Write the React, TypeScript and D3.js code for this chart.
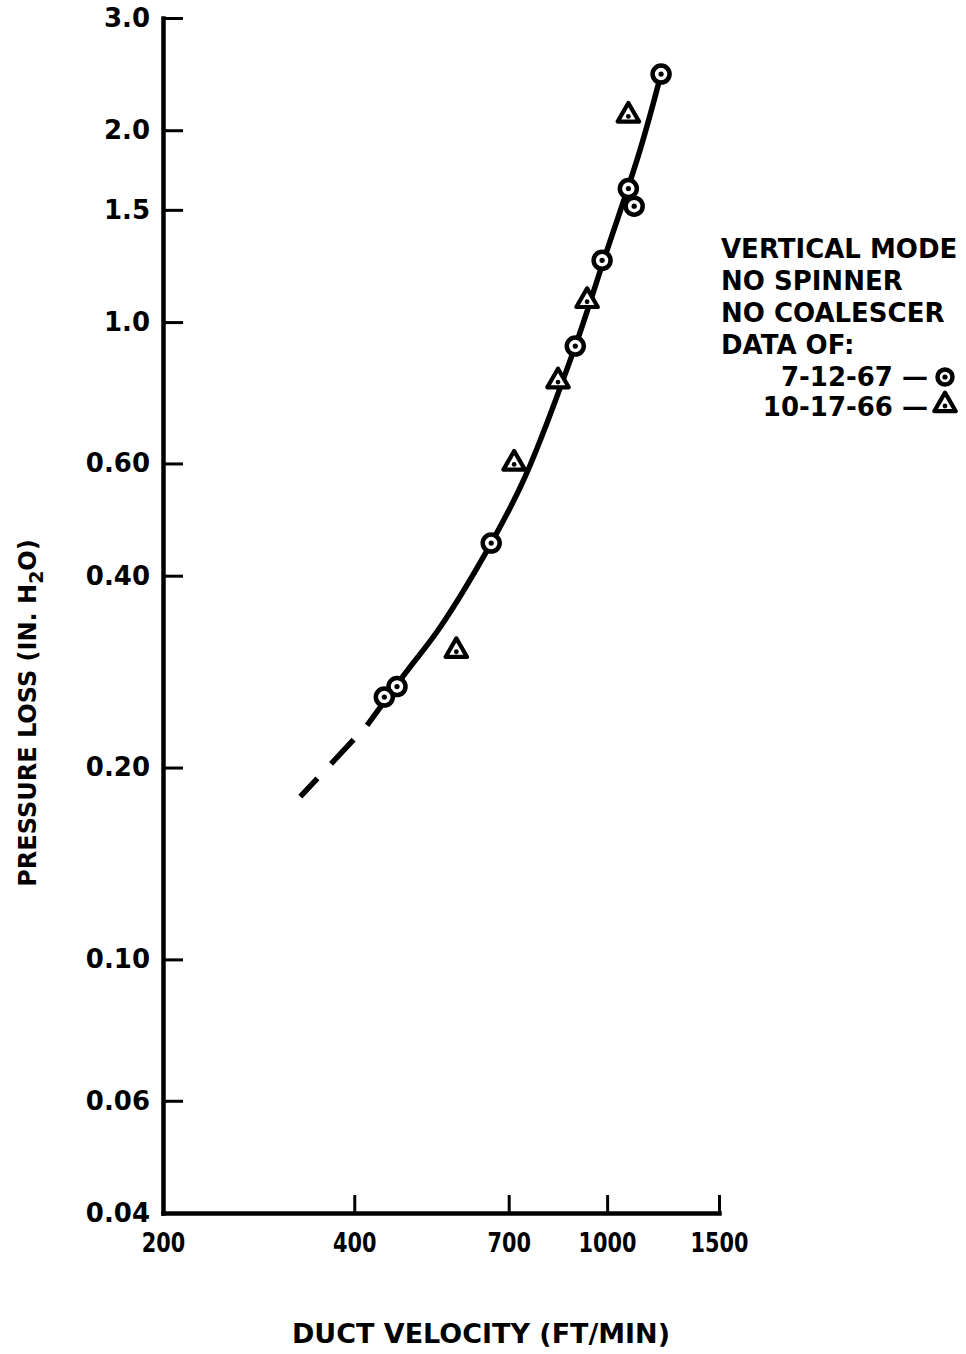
import React, { useRef, useEffect } from "react";
import * as d3 from "d3";

// duct velocity (ft/min) vs pressure loss (in. H2O)
const circleVelocity = [1216, 1080, 1103, 982, 891, 657, 467, 446];
const circleLoss = [2.45, 1.62, 1.52, 1.25, 0.917, 0.45, 0.268, 0.258];
const triangleVelocity = [1080, 930, 837, 714, 579];
const triangleLoss = [2.11, 1.08, 0.808, 0.6, 0.305];

// faired curve (solid) and the dashed extension below the data
const curveVelocity = [419, 481, 546, 657, 743, 891, 985, 1127, 1216];
const curveLoss = [0.233, 0.281, 0.332, 0.45, 0.572, 0.917, 1.24, 1.863, 2.45];
const dashVelocity = [329, 419];
const dashLoss = [0.18, 0.233];

const xTicks = [200, 400, 700, 1000, 1500];
const yTicks = [3.0, 2.0, 1.5, 1.0, 0.6, 0.4, 0.2, 0.1, 0.06, 0.04];
const yLabels = ["3.0", "2.0", "1.5", "1.0", "0.60", "0.40", "0.20", "0.10", "0.06", "0.04"];

const legendLines = ["VERTICAL MODE", "NO SPINNER", "NO COALESCER", "DATA OF:"];
const legendDates = ["7-12-67 \u2014", "10-17-66 \u2014"];

const FONT = "'DejaVu Sans', sans-serif";

function PressureChart() {
  const width = 966;
  const height = 1354;
  const svgRef = useRef<SVGSVGElement>(null);

  useEffect(() => {
    const svg = d3.select(svgRef.current);
    svg.selectAll("*").remove();

    const x = d3.scaleLog().domain([200, 1500]).range([163, 719]);
    const y = d3.scaleLog().domain([0.04, 3.0]).range([1213, 18]);

    // y axis
    const gy = svg
      .append("g")
      .attr("transform", `translate(${x(200)},0)`)
      .call(
        d3
          .axisLeft(y)
          .tickValues(yTicks)
          .tickSize(-20)
          .tickSizeOuter(0)
          .tickPadding(13)
          .tickFormat((d, i) => yLabels[i])
      );
    gy.select(".domain").attr("stroke-width", 4.5).attr("stroke-linecap", "square");
    gy.selectAll(".tick line").attr("stroke-width", 3);
    gy.selectAll(".tick text")
      .attr("font-family", FONT)
      .attr("font-size", 26)
      .attr("font-weight", "bold")
      .attr("fill", "#000");

    // x axis
    const gx = svg
      .append("g")
      .attr("transform", `translate(0,${y(0.04)})`)
      .call(
        d3
          .axisBottom(x)
          .tickValues(xTicks)
          .tickSize(-18)
          .tickSizeOuter(0)
          .tickPadding(20)
          .tickFormat((d) => String(d))
      );
    gx.select(".domain").attr("stroke-width", 4.5).attr("stroke-linecap", "square");
    gx.selectAll(".tick line").attr("stroke-width", 3);
    gx.selectAll(".tick text")
      .attr("font-family", FONT)
      .attr("font-size", 27)
      .attr("font-weight", "bold")
      .attr("fill", "#000")
      .attr("textLength", (d: any) => String(d).length * 14.5)
      .attr("lengthAdjust", "spacingAndGlyphs");
    gx.select(".tick").select("line").remove();

    // faired curve
    const line = d3
      .line<number>()
      .x((i) => x(curveVelocity[i]))
      .y((i) => y(curveLoss[i]))
      .curve(d3.curveCatmullRom.alpha(0.5));
    svg
      .append("path")
      .attr("d", line(d3.range(curveVelocity.length)))
      .attr("fill", "none")
      .attr("stroke", "#000")
      .attr("stroke-width", 5.5);

    const dashLine = d3
      .line<number>()
      .x((i) => x(dashVelocity[i]))
      .y((i) => y(dashLoss[i]));
    svg
      .append("path")
      .attr("d", dashLine(d3.range(dashVelocity.length)))
      .attr("fill", "none")
      .attr("stroke", "#000")
      .attr("stroke-width", 5.5)
      .attr("stroke-dasharray", "25 20 33 20");

    const triangle = d3.symbol(d3.symbolTriangle, 200);

    const drawCircle = (g: any, cx: number, cy: number, r = 8.5) => {
      g.append("circle")
        .attr("cx", cx)
        .attr("cy", cy)
        .attr("r", r)
        .attr("fill", "#fff")
        .attr("stroke", "#000")
        .attr("stroke-width", 4.5);
      g.append("circle").attr("cx", cx).attr("cy", cy).attr("r", 2.6).attr("fill", "#000");
    };
    const drawTriangle = (g: any, cx: number, cy: number) => {
      g.append("path")
        .attr("d", triangle())
        .attr("transform", `translate(${cx},${cy})`)
        .attr("fill", "#fff")
        .attr("stroke", "#000")
        .attr("stroke-width", 4.2)
        .attr("stroke-linejoin", "round");
      g.append("circle").attr("cx", cx).attr("cy", cy + 1).attr("r", 2.4).attr("fill", "#000");
    };

    const marks = svg.append("g");
    circleVelocity.forEach((v, i) => drawCircle(marks, x(v), y(circleLoss[i])));
    triangleVelocity.forEach((v, i) => drawTriangle(marks, x(v), y(triangleLoss[i])));

    // legend
    const legend = svg
      .append("g")
      .attr("font-family", FONT)
      .attr("font-size", 26)
      .attr("font-weight", "bold");
    legendLines.forEach((t, i) => {
      legend.append("text").attr("x", 721).attr("y", 258 + i * 32).text(t);
    });
    legendDates.forEach((t, i) => {
      legend
        .append("text")
        .attr("x", 928)
        .attr("y", 386 + i * 30)
        .attr("text-anchor", "end")
        .text(t);
    });
    drawCircle(legend, 945, 377, 7.5);
    drawTriangle(legend, 945, 405);

    // axis titles
    svg
      .append("text")
      .attr("x", 481)
      .attr("y", 1343)
      .attr("text-anchor", "middle")
      .attr("font-family", FONT)
      .attr("font-size", 26)
      .attr("font-weight", "bold")
      .attr("textLength", 378)
      .attr("lengthAdjust", "spacingAndGlyphs")
      .text("DUCT VELOCITY (FT/MIN)");

    const yTitle = svg
      .append("text")
      .attr("transform", "translate(36,713) rotate(-90)")
      .attr("text-anchor", "middle")
      .attr("font-family", FONT)
      .attr("font-size", 24)
      .attr("font-weight", "bold");
    yTitle.append("tspan").text("PRESSURE LOSS (IN. H");
    yTitle.append("tspan").attr("dy", 7).attr("font-size", 19).text("2");
    yTitle.append("tspan").attr("dy", -7).text("O)");
  }, []);

  return (
    <svg
      ref={svgRef}
      width={width}
      height={height}
      style={{ position: "absolute", left: 0, top: 0, background: "#fff" }}
    ></svg>
  );
}

export default function App() {
  return <PressureChart />;
}
